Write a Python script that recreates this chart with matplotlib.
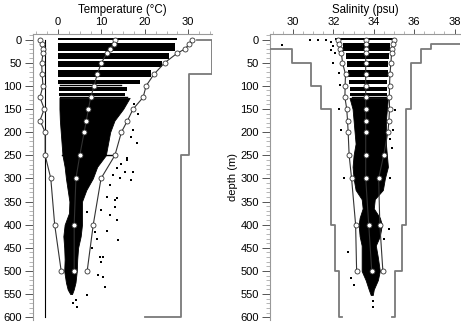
import matplotlib
matplotlib.use("Agg")
import matplotlib.pyplot as plt
from matplotlib.ticker import MultipleLocator

plt.rcParams['font.family'] = ['Liberation Sans', 'DejaVu Sans']

# standard depths used by the profiles (m)
std_depth = [0, 10, 20, 30, 50, 75, 100, 125, 150, 175, 200, 250, 300, 400, 500]

# temperature profiles (deg C): mean and mean -/+ 3 sd
temp_mean = [13.1, 12.8, 12.0, 11.2, 10.0, 9.0, 8.3, 7.5, 7.0, 6.5, 6.0, 5.0, 4.1, 3.7, 3.7]
temp_low = [-4.2, -3.8, -3.6, -3.5, -3.8, -3.7, -3.5, -4.2, -3.2, -4.2, -3.0, -3.0, -1.7, -0.8, 0.7]
temp_high = [30.8, 30.2, 29.3, 27.4, 24.6, 22.1, 20.3, 19.6, 17.3, 16.0, 14.6, 13.1, 9.9, 8.1, 6.7]

# salinity profiles (psu)
sal_mean = [33.6, 33.6, 33.6, 33.6, 33.6, 33.6, 33.6, 33.6, 33.6, 33.6, 33.6, 33.6, 33.6, 33.75, 33.9]
sal_low = [32.24, 32.29, 32.34, 32.4, 32.45, 32.6, 32.58, 32.57, 32.66, 32.7, 32.73, 32.78, 32.9, 33.1, 33.15]
sal_high = [34.98, 34.95, 34.9, 34.88, 34.85, 34.8, 34.78, 34.77, 34.78, 34.75, 34.7, 34.49, 34.24, 34.3, 34.45]

# range-check limits (step lines)
temp_max_t = [32.0, 35.5, 35.5, 30.3, 30.3, 28.3, 28.3, 20.0]
temp_max_d = [0, 0, 75, 75, 250, 250, 600, 600]
temp_min_t = [-3.0, -3.0]
temp_min_d = [0, 600]
sal_min_s = [28.0, 29.95, 29.95, 30.9, 30.9, 31.4, 31.4, 31.9, 31.9, 32.1, 32.1, 32.3, 32.3, 32.45]
sal_min_d = [20, 20, 50, 50, 100, 100, 150, 150, 400, 400, 500, 500, 600, 600]
sal_max_s = [38.5, 36.85, 36.85, 36.36, 36.36, 35.86, 35.86, 35.62, 35.62, 35.38, 35.38, 35.06, 35.06, 34.9]
sal_max_d = [10, 10, 20, 20, 50, 50, 150, 150, 400, 400, 500, 500, 600, 600]

# bulk of the observations, upper layers come in bands (top, bottom, low, high)
temp_bands = [(-4, 2, 0.0, 27.5), (7, 24, 0.0, 27.0), (28, 43, 0.0, 25.5), (46, 60, 0.0, 24.0),
              (66, 81, 0.0, 21.5), (87, 97, 0.0, 19.0), (103, 111, 0.3, 16.0), (116, 123, 0.3, 15.5)]
sal_bands = [(-4, 2, 32.1, 35.0), (7, 24, 32.5, 34.8), (28, 42, 32.6, 34.75), (46, 60, 32.65, 34.7),
             (66, 81, 32.7, 34.7), (88, 97, 32.75, 34.65), (103, 111, 32.8, 34.65), (116, 123, 32.8, 34.65)]

# deeper part of the observations (depth, low, high)
temp_cloud_d = [126, 150, 175, 200, 225, 250, 275, 300, 325, 350, 375, 400, 425, 450, 475, 500, 525, 540, 550]
temp_cloud_lo = [0.3, 0.3, 0.4, 0.6, 0.8, 1.0, 1.5, 1.8, 2.2, 2.6, 2.5, 1.5, 1.2, 1.4, 1.5, 1.4, 1.8, 2.2, 2.8]
temp_cloud_hi = [16.5, 15.0, 13.0, 12.0, 11.5, 11.0, 9.0, 8.0, 6.5, 5.5, 5.5, 5.5, 5.2, 4.6, 4.4, 4.3, 4.0, 3.6, 3.2]
sal_cloud_d = [126, 150, 175, 200, 225, 250, 275, 300, 325, 345, 365, 385, 400, 425, 445, 470, 500, 520, 540, 552]
sal_cloud_lo = [32.8, 32.95, 33.0, 33.05, 33.1, 33.0, 32.95, 33.0, 33.1, 33.4, 33.45, 33.3, 33.25, 33.3, 33.4, 33.4, 33.4, 33.6, 33.75, 33.85]
sal_cloud_hi = [34.7, 34.65, 34.6, 34.6, 34.6, 34.65, 34.7, 34.55, 34.45, 34.05, 34.0, 34.3, 34.4, 34.3, 34.1, 34.2, 34.3, 34.2, 34.0, 33.95]

# rows of observations at a single depth
temp_rows = [(98, 0.5, 14.5), (124, 0.5, 16.0), (250, 1.0, 13.0)]
sal_rows = [(124, 32.9, 34.7)]

# scattered observations off the main body
temp_pts_t = [15.8, 14.6, 13.5, 15.4, 12.7, 14.2, 11.9, 11.2, 13.1, 10.0, 11.9, 13.5, 5.0, 6.6,
              8.9, 7.7, 9.6, 10.0, 9.2, 10.4, 10.8, 6.6, 4.2, 4.4, 8.5, 11.2, 15.8, 17.3, 18.1,
              15.8, 17.3, 16.9, 13.5, 13.1, 13.9, 10.4, 3.5, 17.5, 18.5, 16.8]
temp_pts_d = [257, 268, 278, 286, 293, 300, 315, 340, 347, 369, 379, 390, 351, 372,
              430, 451, 470, 480, 509, 513, 534, 552, 563, 578, 415, 414, 174, 196, 224,
              260, 286, 304, 343, 361, 433, 470, 570, 140, 160, 210]
sal_pts_s = [32.54, 34.8, 34.9, 34.8, 32.7, 32.86, 33.0, 34.73, 30.83, 31.23, 31.64, 31.9, 32.0,
             31.87, 32.1, 32.0, 32.3, 32.35, 32.3, 32.4, 35.04, 34.96, 29.45, 33.95, 33.95, 34.5]
sal_pts_d = [300, 300, 235, 214, 459, 516, 531, 410, 0, 0, 0, 5, 14,
             23, 30, 50, 73, 98, 149, 196, 152, 196, 12, 565, 578, 430]

fig = plt.figure(figsize=(4.61, 3.27), dpi=100)
ax_t = fig.add_axes([0.0716, 0.0214, 0.3883, 0.8746])
ax_s = fig.add_axes([0.5857, 0.0214, 0.4121, 0.8746])


def draw_obs(ax, bands, cd, clo, chi, rows, px, pd):
    for top, bot, lo, hi in bands:
        ax.fill_betweenx([top, bot], [lo, lo], [hi, hi], color='k', lw=0, zorder=1)
    ax.fill_betweenx(cd, clo, chi, color='k', lw=0.6, edgecolor='k', zorder=1)
    for d, lo, hi in rows:
        ax.plot([lo, hi], [d, d], color='k', lw=1.0, zorder=1)
    ax.scatter(px, pd, s=2.5, marker='s', color='k', lw=0, zorder=2)


def draw_profile(ax, x, d):
    ax.plot(x, d, color='#333333', lw=0.8, marker='o', ms=3.6,
            mfc='white', mec='#333333', mew=0.6, zorder=3)


def style_axis(ax, title, xlim, major, minor):
    ax.set_xlim(*xlim)
    ax.set_ylim(606, -12)
    ax.xaxis.tick_top()
    ax.xaxis.set_label_position('top')
    ax.set_xlabel(title, fontsize=8.3, labelpad=3)
    ax.xaxis.set_major_locator(MultipleLocator(major))
    ax.xaxis.set_minor_locator(MultipleLocator(minor))
    ax.yaxis.set_major_locator(MultipleLocator(50))
    ax.yaxis.set_minor_locator(MultipleLocator(10))
    ax.tick_params(axis='y', which='major', length=6, width=0.7, pad=2, labelsize=8, color='#555555')
    ax.tick_params(axis='y', which='minor', length=3, width=0.5, color='#999999')
    ax.tick_params(axis='x', which='major', length=3.5, width=0.7, pad=1.5, labelsize=8, color='#555555')
    ax.tick_params(axis='x', which='minor', length=2, width=0.5, color='#999999')
    for side in ['right', 'bottom']:
        ax.spines[side].set_visible(False)
    for side in ['left', 'top']:
        ax.spines[side].set_color('#999999')
        ax.spines[side].set_linewidth(0.8)


# temperature panel
draw_obs(ax_t, temp_bands, temp_cloud_d, temp_cloud_lo, temp_cloud_hi, temp_rows, temp_pts_t, temp_pts_d)
ax_t.plot(temp_max_t, temp_max_d, color='#7a7a7a', lw=1.3, zorder=3)
ax_t.plot(temp_min_t, temp_min_d, color='k', lw=0.8, zorder=3)
for prof in [temp_low, temp_mean, temp_high]:
    draw_profile(ax_t, prof, std_depth)
style_axis(ax_t, 'Temperature (°C)', (-5.8, 35.5), 10, 2.5)

# salinity panel
draw_obs(ax_s, sal_bands, sal_cloud_d, sal_cloud_lo, sal_cloud_hi, sal_rows, sal_pts_s, sal_pts_d)
ax_s.plot(sal_min_s, sal_min_d, color='#7a7a7a', lw=1.3, zorder=3)
ax_s.plot(sal_max_s, sal_max_d, color='#7a7a7a', lw=1.3, zorder=3)
for prof in [sal_low, sal_mean, sal_high]:
    draw_profile(ax_s, prof, std_depth)
style_axis(ax_s, 'Salinity (psu)', (28.86, 38.27), 2, 0.5)
ax_s.set_ylabel('depth (m)', fontsize=8, labelpad=2)

fig.savefig('out.png', dpi=100)
